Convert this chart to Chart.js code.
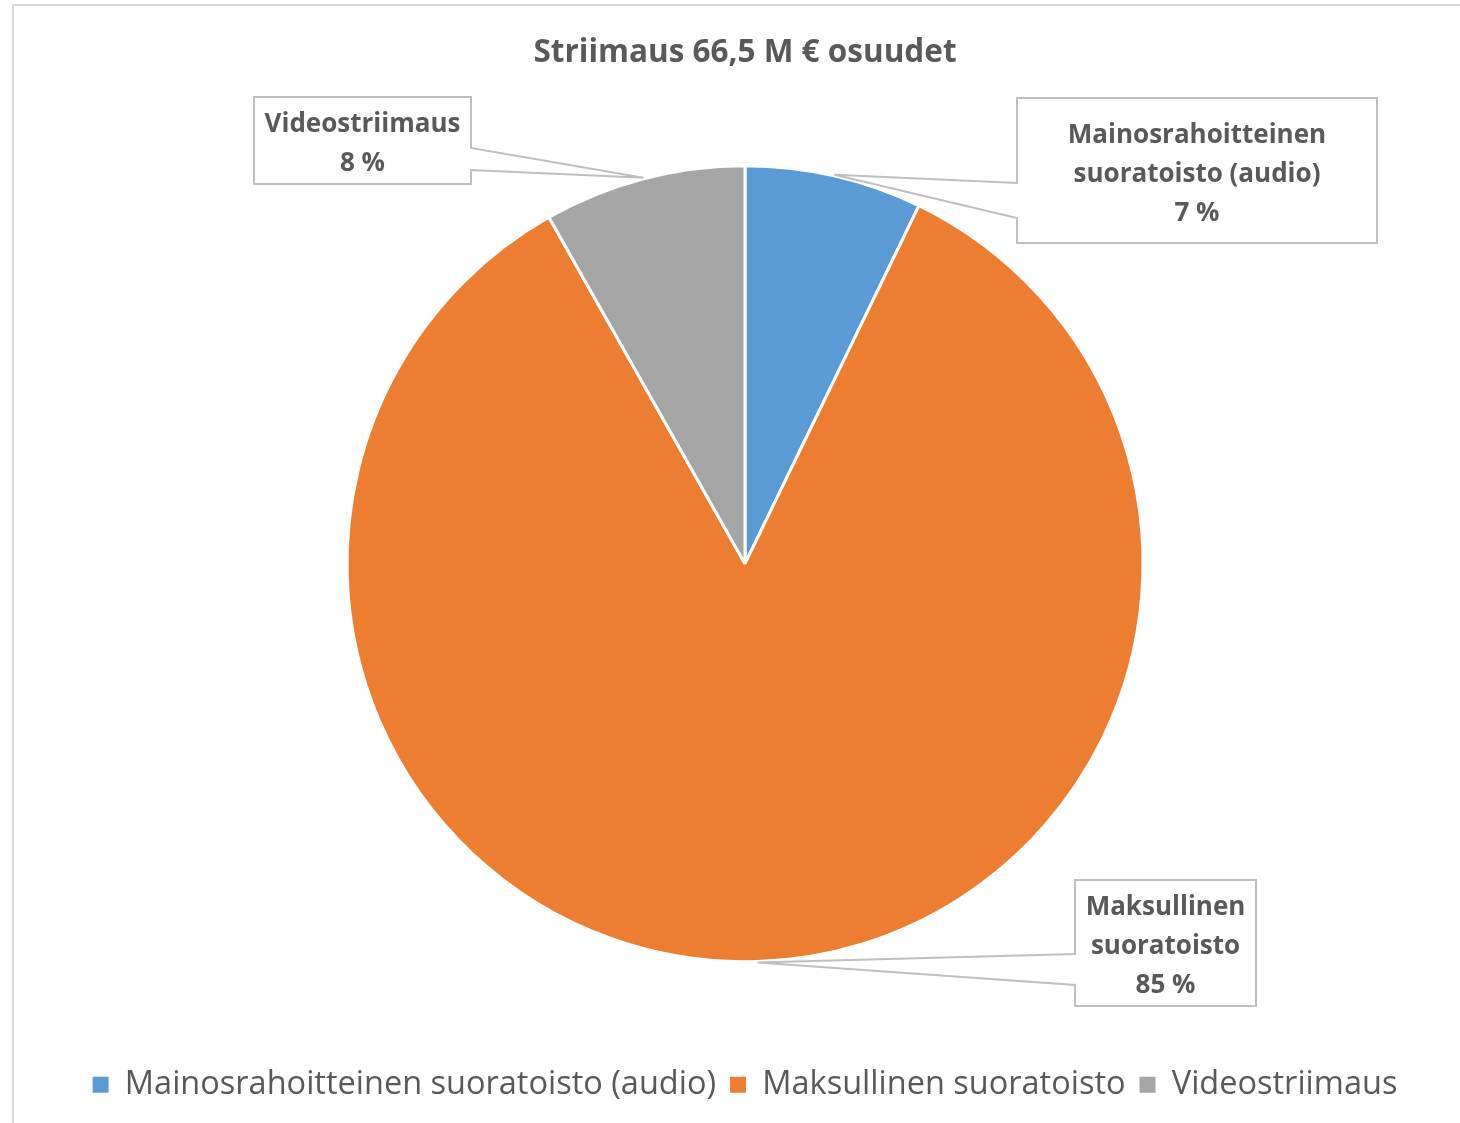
<!DOCTYPE html>
<html>
<head>
<meta charset="utf-8">
<script src="https://cdn.jsdelivr.net/npm/chart.js@4.4.1/dist/chart.umd.min.js"></script>
<style>
  html, body { margin: 0; padding: 0; background: #fff; }
  #wrap { position: relative; width: 1460px; height: 1123px; }
</style>
</head>
<body>
<div id="wrap"><canvas id="chart" width="1460" height="1123"></canvas></div>
<script>
// Striimaus 66,5 M € - osuudet (%)
const categories = ['Mainosrahoitteinen suoratoisto (audio)', 'Maksullinen suoratoisto', 'Videostriimaus'];
const shares = [7.2, 84.6, 8.2];
const sliceColors = ['#5B9BD5', '#ED7D31', '#A5A5A5'];
const calloutLines = [['Mainosrahoitteinen', 'suoratoisto (audio)'], ['Maksullinen', 'suoratoisto'], ['Videostriimaus']];
const titleText = 'Striimaus 66,5 M € osuudet';

const TEXT_COLOR = '#595959';
const LINE_COLOR = '#BFBFBF';

// Callout boxes for the data labels (box rect + where the pointer leaves the box)
const calloutBoxes = [
  { x: 1017, y: 98, w: 360, h: 145, side: 'left', wedge: [183, 218] },
  { x: 1075, y: 880, w: 181, h: 126, side: 'left', wedge: [954, 985] },
  { x: 254, y: 97, w: 217, h: 87, side: 'right', wedge: [148, 170] }
];

// Outer frame of the chart
const framePlugin = {
  id: 'frame',
  beforeDraw(chart) {
    const ctx = chart.ctx;
    ctx.save();
    ctx.strokeStyle = '#D9D9D9';
    ctx.lineWidth = 2;
    ctx.beginPath();
    ctx.moveTo(13, chart.height);
    ctx.lineTo(13, 5);
    ctx.lineTo(chart.width, 5);
    ctx.stroke();
    ctx.restore();
  }
};

// Data labels in callout boxes
const calloutPlugin = {
  id: 'callouts',
  afterDatasetsDraw(chart) {
    const ctx = chart.ctx;
    const meta = chart.getDatasetMeta(0);
    const data = chart.data.datasets[0].data;
    const total = data.reduce((s, v) => s + v, 0);

    meta.data.forEach((arc, i) => {
      const box = calloutBoxes[i];
      const mid = (arc.startAngle + arc.endAngle) / 2;
      const tipX = arc.x + Math.cos(mid) * (arc.outerRadius + 1);
      const tipY = arc.y + Math.sin(mid) * (arc.outerRadius + 1);

      ctx.save();
      ctx.beginPath();
      if (box.side === 'left') {
        ctx.moveTo(box.x, box.y);
        ctx.lineTo(box.x + box.w, box.y);
        ctx.lineTo(box.x + box.w, box.y + box.h);
        ctx.lineTo(box.x, box.y + box.h);
        ctx.lineTo(box.x, box.wedge[1]);
        ctx.lineTo(tipX, tipY);
        ctx.lineTo(box.x, box.wedge[0]);
      } else {
        const rx = box.x + box.w;
        ctx.moveTo(box.x, box.y);
        ctx.lineTo(rx, box.y);
        ctx.lineTo(rx, box.wedge[0]);
        ctx.lineTo(tipX, tipY);
        ctx.lineTo(rx, box.wedge[1]);
        ctx.lineTo(rx, box.y + box.h);
        ctx.lineTo(box.x, box.y + box.h);
      }
      ctx.closePath();
      ctx.fillStyle = '#fff';
      ctx.fill();
      ctx.strokeStyle = LINE_COLOR;
      ctx.lineWidth = 2;
      ctx.stroke();

      const lines = calloutLines[i].concat([Math.round(data[i] / total * 100) + ' %']);
      const lineH = 39;
      const cx = box.x + box.w / 2;
      const cy = box.y + box.h / 2 + 4;
      ctx.fillStyle = TEXT_COLOR;
      ctx.font = 'bold 26px "Open Sans"';
      ctx.textAlign = 'center';
      ctx.textBaseline = 'middle';
      lines.forEach((t, k) => {
        ctx.fillText(t, cx, cy + (k - (lines.length - 1) / 2) * lineH);
      });
      ctx.restore();
    });
  }
};

new Chart(document.getElementById('chart'), {
  type: 'pie',
  data: {
    labels: categories,
    datasets: [{
      data: shares,
      backgroundColor: sliceColors,
      borderColor: '#fff',
      borderWidth: 3,
      radius: 398
    }]
  },
  options: {
    responsive: false,
    animation: false,
    layout: { padding: { left: 30, right: 0, top: 0, bottom: 12 } },
    plugins: {
      title: {
        display: true,
        text: titleText,
        color: TEXT_COLOR,
        font: { family: 'Open Sans', size: 31.5, weight: 'bold' },
        padding: { top: 34, bottom: 1 }
      },
      legend: {
        position: 'bottom',
        labels: {
          color: TEXT_COLOR,
          boxWidth: 16,
          boxHeight: 16,
          padding: 14,
          font: { family: 'Open Sans', size: 32.5 },
          // plain squares, without the white slice border
          generateLabels(chart) {
            const items = Chart.overrides.pie.plugins.legend.labels.generateLabels(chart);
            items.forEach(it => { it.lineWidth = 0; });
            return items;
          }
        }
      },
      tooltip: { enabled: false }
    }
  },
  plugins: [framePlugin, calloutPlugin]
});
</script>
</body>
</html>
